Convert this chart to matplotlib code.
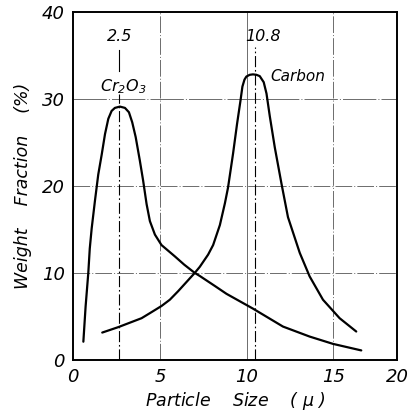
import numpy as np
import matplotlib.pyplot as plt

# values (particle size in micron, weight fraction %)
cr_x = [0.58, 0.71, 0.865, 0.95, 1.06, 1.25, 1.44, 1.64, 1.83, 2.02, 2.21, 2.40, 2.69,
        2.98, 3.21, 3.40, 3.60, 3.84, 4.03, 4.23, 4.42, 4.71, 5.09, 5.86, 6.40, 7.01,
        7.30, 8.17, 8.84, 10.37, 12.10, 13.64, 14.99, 16.62]
cr_y = [2.1, 6.15, 10.0, 12.8, 15.1, 18.3, 21.3, 23.6, 25.95, 27.7, 28.6, 28.95, 29.1,
        28.95, 28.45, 27.3, 25.6, 22.9, 20.6, 17.9, 15.95, 14.4, 13.2, 11.9, 10.95, 10.0,
        9.65, 8.5, 7.6, 5.9, 3.84, 2.69, 1.85, 1.1]

c_x = [1.67, 2.59, 3.94, 4.42, 5.09, 5.57, 6.05, 7.01, 7.30, 7.78, 8.07, 8.46, 8.75,
       8.93, 9.22, 9.45, 9.65, 9.76, 9.88, 9.99, 10.18, 10.37, 10.57, 10.76, 10.99,
       11.15, 11.34, 11.63, 12.01, 12.39, 13.07, 13.64, 14.41, 15.37, 16.33]
c_y = [3.15, 3.77, 4.8, 5.38, 6.2, 6.92, 7.9, 10.0, 10.7, 12.1, 13.2, 15.5, 18.0,
       19.8, 23.7, 27.1, 29.8, 31.4, 32.2, 32.55, 32.75, 32.8, 32.75, 32.6, 31.9,
       30.6, 28.0, 24.4, 20.3, 16.4, 12.3, 9.6, 6.92, 4.8, 3.27]

peak_x = [2.65, 10.47]
peak_txt = ["2.5", "10.8"]

x_right = 18.7  # the frame in the scan ends short of 20
x_ticks = [0, 5, 10, 15, x_right]
x_ticklabels = ["0", "5", "10", "15", "20"]
y_ticks = [0, 10, 20, 30, 40]

plt.rcParams["font.family"] = "DejaVu Sans"
plt.rcParams["font.style"] = "italic"

fig = plt.figure(figsize=(4.13, 4.17), dpi=100)
ax = fig.add_axes([0.1775, 0.1367, 0.7845, 0.8353])

grid_kw = dict(color="#555555", lw=0.6, dashes=(20, 2.5, 1.2, 2.5))
for gx in [5, 15]:
    ax.axvline(gx, **grid_kw)
ax.axvline(10, color="#555555", lw=0.6)
for gy in [10, 20]:
    ax.axhline(gy, **grid_kw)
ax.axhline(30, color="#555555", lw=0.6, dashes=(40, 2.5, 1.2, 2.5))

# markers at the peak sizes
ax.plot([peak_x[0], peak_x[0]], [0, 30.6], color="black", lw=0.8, dashes=(10, 2.5, 1.5, 2.5))
ax.plot([peak_x[0], peak_x[0]], [33.2, 35.6], color="black", lw=0.8)
ax.plot([peak_x[1], peak_x[1]], [0, 35.9], color="black", lw=0.8, dashes=(10, 2.5, 1.5, 2.5))

line_kw = dict(color="black", lw=1.6, solid_capstyle="round", solid_joinstyle="round")
ax.plot(cr_x, cr_y, **line_kw)
ax.plot(c_x, c_y, **line_kw)

ax.text(peak_x[0], 37.1, peak_txt[0], ha="center", va="center", fontsize=11.5)
ax.text(10.95, 37.1, peak_txt[1], ha="center", va="center", fontsize=11.5)
ax.text(2.87, 31.4, "Cr$_2$O$_3$", ha="center", va="center", fontsize=11.5)
ax.text(12.96, 32.6, "Carbon", ha="center", va="center", fontsize=11)

ax.set_xlim(0, x_right)
ax.set_ylim(0, 40)
ax.set_xticks(x_ticks)
ax.set_xticklabels(x_ticklabels)
ax.set_yticks(y_ticks)
ax.tick_params(length=0, labelsize=13, pad=6)
for s in ax.spines.values():
    s.set_linewidth(1.4)

ax.set_xlabel("Particle    Size    ( $\\mu$ )", fontsize=12.5, labelpad=3)
ax.set_ylabel("Weight    Fraction    (%)", fontsize=12.5, labelpad=7)

fig.savefig("out.png", dpi=100)
